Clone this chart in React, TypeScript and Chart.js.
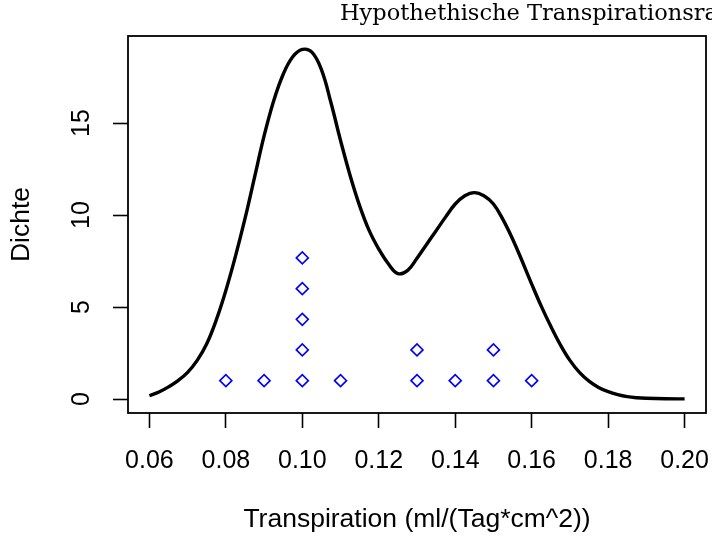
import React, { useEffect, useRef } from "react";
import { Chart, registerables } from "chart.js";

Chart.register(...registerables);

const TITLE = "Hypothethische Transpirationsrate";
const X_LABEL = "Transpiration (ml/(Tag*cm^2))";
const Y_LABEL = "Dichte";

// Kernel density curve
const densityX = [
  0.06, 0.0625, 0.065, 0.0675, 0.07, 0.0725, 0.075, 0.0775, 0.08, 0.0825,
  0.085, 0.0875, 0.09, 0.0925, 0.095, 0.0975, 0.1, 0.1025, 0.105, 0.1075,
  0.11, 0.1125, 0.115, 0.1175, 0.12, 0.1225, 0.125, 0.1275, 0.13, 0.1325,
  0.135, 0.1375, 0.14, 0.1425, 0.145, 0.1475, 0.15, 0.1525, 0.155, 0.1575,
  0.16, 0.1625, 0.165, 0.1675, 0.17, 0.1725, 0.175, 0.1775, 0.18, 0.1825,
  0.185, 0.1875, 0.19, 0.195, 0.2,
];
const densityY = [
  0.18, 0.38, 0.66, 1.0, 1.45, 2.1, 3.0, 4.3, 5.9, 7.75,
  9.8, 12.05, 14.3, 16.2, 17.65, 18.6, 19.0, 18.85, 17.9, 16.1,
  14.05, 12.15, 10.5, 9.15, 8.15, 7.35, 6.82, 6.98, 7.65, 8.4,
  9.15, 9.9, 10.6, 11.05, 11.22, 11.05, 10.6, 9.75, 8.7, 7.5,
  6.25, 5.05, 3.95, 2.95, 2.1, 1.45, 0.97, 0.63, 0.4, 0.24,
  0.13, 0.07, 0.04, 0.015, 0.01,
];

// Stacked strip chart of the observations
const stripX = [0.08, 0.09, 0.1, 0.1, 0.1, 0.1, 0.1, 0.11, 0.13, 0.13, 0.14, 0.15, 0.15, 0.16];
const stripY = [1, 1, 1, 2.67, 4.33, 6, 7.67, 1, 1, 2.67, 1, 1, 2.67, 1];

const xTicks = [0.06, 0.08, 0.1, 0.12, 0.14, 0.16, 0.18, 0.2];
const yTicks = [0, 5, 10, 15];

const X_MIN = 0.0544;
const X_MAX = 0.2056;
const Y_MIN = -0.759;
const Y_MAX = 19.73;

const framePlugin = {
  id: "frame",
  afterDraw(chart: any) {
    const { ctx, chartArea } = chart;
    const { left, top, right, bottom } = chartArea;
    ctx.save();
    ctx.strokeStyle = "#000";
    ctx.lineWidth = 1.8;
    ctx.strokeRect(left, top, right - left, bottom - top);
    ctx.font = '22.5px "DejaVu Serif"';
    ctx.fillStyle = "#000";
    ctx.textAlign = "left";
    ctx.textBaseline = "alphabetic";
    ctx.fillText(TITLE, 340, 20);
    ctx.restore();
  },
};

export default function App() {
  const canvasRef = useRef<HTMLCanvasElement | null>(null);

  useEffect(() => {
    const canvas = canvasRef.current;
    if (!canvas) return;
    const family = '"Liberation Sans", Arial, sans-serif';
    const tickFont = { family, size: 25 };
    const titleFont = { family, size: 26.5 };
    const chart = new Chart(canvas, {
      type: "scatter",
      data: {
        datasets: [
          {
            label: "points",
            data: stripX.map((x, i) => ({ x, y: stripY[i] })),
            pointStyle: "rectRot",
            pointRadius: 6,
            pointBorderWidth: 1.6,
            pointBorderColor: "#0000ff",
            pointBackgroundColor: "rgba(0,0,0,0)",
            showLine: false,
            order: 0,
          } as any,
          {
            label: "density",
            data: densityX.map((x, i) => ({ x, y: densityY[i] })),
            showLine: true,
            borderColor: "#000",
            borderWidth: 3.4,
            pointRadius: 0,
            tension: 0.4,
            order: 1,
          } as any,
        ],
      },
      options: {
        animation: false,
        responsive: false,
        maintainAspectRatio: false,
        layout: { autoPadding: false, padding: { top: 36, right: 6, left: 0, bottom: 0 } },
        plugins: {
          legend: { display: false },
          tooltip: { enabled: false },
          title: { display: false },
        },
        scales: {
          x: {
            type: "linear",
            min: X_MIN,
            max: X_MAX,
            afterBuildTicks: (s: any) => {
              s.ticks = xTicks.map((v) => ({ value: v }));
            },
            afterFit: (s: any) => {
              s.height = 129;
              s.paddingLeft = 0;
              s.paddingRight = 0;
            },
            ticks: {
              autoSkip: false,
              maxRotation: 0,
              minRotation: 0,
              padding: 18,
              color: "#000",
              font: tickFont,
              callback: (v: any) => Number(v).toFixed(2),
            },
            grid: {
              drawOnChartArea: false,
              drawTicks: true,
              tickLength: 15,
              tickWidth: 1.6,
              tickColor: "#000",
              color: "#000",
            },
            border: { display: false },
            title: {
              display: true,
              text: X_LABEL,
              color: "#000",
              font: titleFont,
              padding: { top: 0, bottom: 6 },
            },
          },
          y: {
            type: "linear",
            min: Y_MIN,
            max: Y_MAX,
            afterBuildTicks: (s: any) => {
              s.ticks = yTicks.map((v) => ({ value: v }));
            },
            afterFit: (s: any) => {
              s.width = 128;
              s.paddingTop = 0;
              s.paddingBottom = 0;
            },
            ticks: {
              autoSkip: false,
              minRotation: 90,
              maxRotation: 90,
              crossAlign: "center",
              padding: 17,
              color: "#000",
              font: tickFont,
              callback: (v: any) => String(v),
            },
            grid: {
              drawOnChartArea: false,
              drawTicks: true,
              tickLength: 15,
              tickWidth: 1.6,
              tickColor: "#000",
              color: "#000",
            },
            border: { display: false },
            title: {
              display: true,
              text: Y_LABEL,
              color: "#000",
              font: titleFont,
              padding: { top: 6, bottom: 0 },
            },
          },
        },
      } as any,
      plugins: [framePlugin],
    });
    return () => chart.destroy();
  }, []);

  return (
    <div style={{ position: "fixed", left: 0, top: 0, width: 712, height: 542, background: "#fff" }}>
      <canvas ref={canvasRef} width={712} height={542} style={{ width: 712, height: 542 }} />
    </div>
  );
}
